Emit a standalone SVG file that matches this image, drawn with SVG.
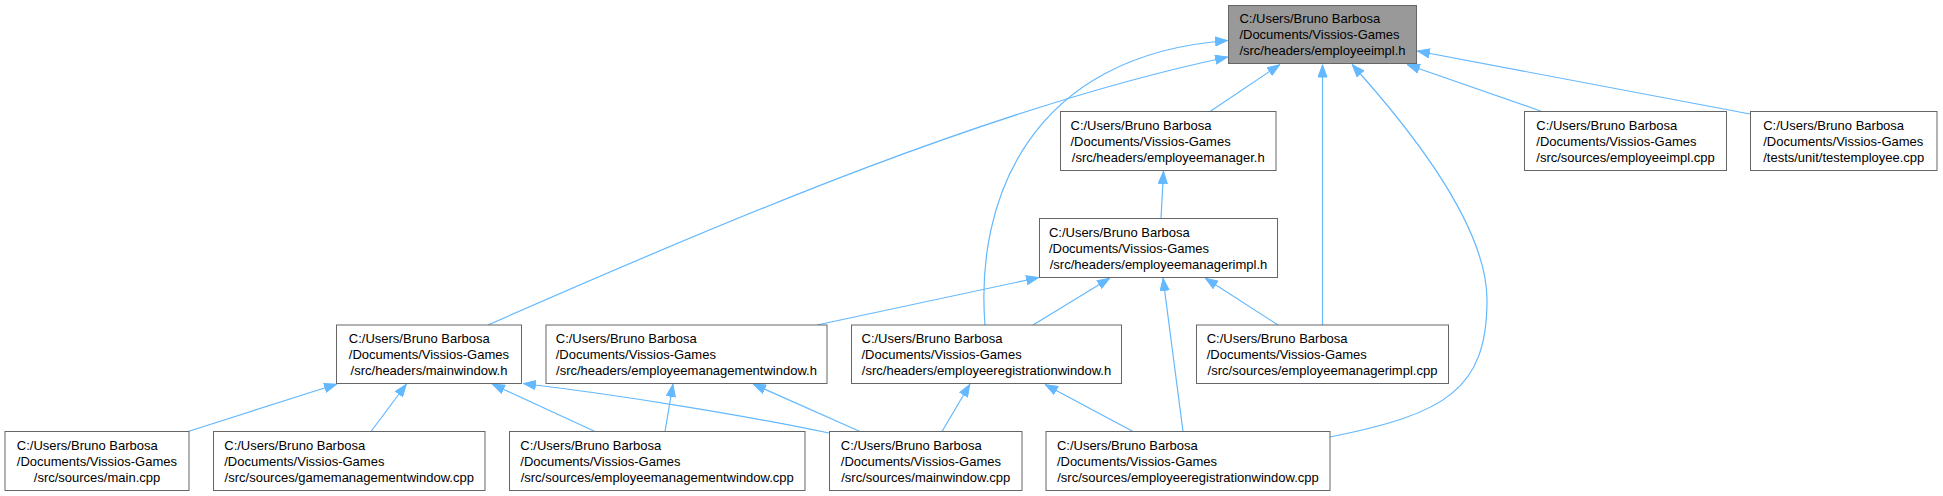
<svg xmlns="http://www.w3.org/2000/svg" width="1943" height="496" viewBox="0 0 1943 496">
<style>
.node rect{fill:#ffffff;stroke:#666666;stroke-width:1}
#n_root rect{fill:#999999}
text{font-family:"Liberation Sans",Arial,Helvetica,sans-serif;font-size:13px;fill:#000000}
.c{text-anchor:middle}
.edges path{fill:none;stroke:#63b8ff;stroke-width:1.2;marker-end:url(#ah)}
</style>
<defs>
<marker id="ah" viewBox="0 0 13 10" refX="13" refY="5" markerWidth="13" markerHeight="10" orient="auto" markerUnits="userSpaceOnUse">
<path d="M0.5,0.5 L12.5,5 L0.5,9.5 z" fill="#63b8ff" stroke="#63b8ff" stroke-width="1"/>
</marker>
</defs>
<rect width="1943" height="496" fill="#ffffff"/>
<g class="edges" id="connectors">
<path d="M488,325 C740,214 1000,105 1228,57"/>
<path d="M985,325 C975,200 1030,55 1228,40.5"/>
<path d="M1210,111.5 L1280,64.5"/>
<path d="M1322.5,325 L1322.5,64.5"/>
<path d="M1330,437 C1445,414 1487,390 1487,300 C1487,230 1420,140 1352,64.5"/>
<path d="M1542,111.5 L1407,64.5"/>
<path d="M1750,114 L1417,51"/>
<path d="M1161,218.5 L1163.5,171"/>
<path d="M817,325 L1039,277.5"/>
<path d="M1033,325 L1110,278"/>
<path d="M1278,325 L1205,278"/>
<path d="M1183,431.5 L1163,278"/>
<path d="M188,431.5 L337,384"/>
<path d="M371,431.5 L406.5,384"/>
<path d="M595,431.5 L492,384"/>
<path d="M829,433 C743,415 620,395 523,383.5"/>
<path d="M665,431.5 L673,384"/>
<path d="M860,431.5 L753,384"/>
<path d="M942,431.5 L970,384"/>
<path d="M1133,431.5 L1045,384.5"/>
</g>
<g class="node" id="n_root">
<rect x="1228.5" y="5.5" width="188" height="58"/>
<text x="1239.4" y="23">C:/Users/Bruno Barbosa</text>
<text x="1239.4" y="39">/Documents/Vissios-Games</text>
<text class="c" x="1322.5" y="55">/src/headers/employeeimpl.h</text>
</g>
<g class="node" id="n_employeemanager_h">
<rect x="1060.5" y="111.5" width="215.5" height="59"/>
<text x="1070.5" y="129.5">C:/Users/Bruno Barbosa</text>
<text x="1070.5" y="145.5">/Documents/Vissios-Games</text>
<text class="c" x="1168.25" y="161.5">/src/headers/employeemanager.h</text>
</g>
<g class="node" id="n_employeeimpl_cpp">
<rect x="1524.5" y="111.5" width="202" height="59"/>
<text x="1536.3" y="129.5">C:/Users/Bruno Barbosa</text>
<text x="1536.3" y="145.5">/Documents/Vissios-Games</text>
<text class="c" x="1625.5" y="161.5">/src/sources/employeeimpl.cpp</text>
</g>
<g class="node" id="n_testemployee_cpp">
<rect x="1750.5" y="111.5" width="186.5" height="59"/>
<text x="1763.2" y="129.5">C:/Users/Bruno Barbosa</text>
<text x="1763.2" y="145.5">/Documents/Vissios-Games</text>
<text class="c" x="1843.75" y="161.5">/tests/unit/testemployee.cpp</text>
</g>
<g class="node" id="n_employeemanagerimpl_h">
<rect x="1039.5" y="218.5" width="238" height="59"/>
<text x="1048.9" y="236.5">C:/Users/Bruno Barbosa</text>
<text x="1048.9" y="252.5">/Documents/Vissios-Games</text>
<text class="c" x="1158.5" y="268.5">/src/headers/employeemanagerimpl.h</text>
</g>
<g class="node" id="n_mainwindow_h">
<rect x="336.5" y="325" width="185" height="58.5"/>
<text x="348.8" y="343">C:/Users/Bruno Barbosa</text>
<text x="348.8" y="359">/Documents/Vissios-Games</text>
<text class="c" x="429" y="375">/src/headers/mainwindow.h</text>
</g>
<g class="node" id="n_employeemanagementwindow_h">
<rect x="546" y="325" width="281" height="58.5"/>
<text x="555.75" y="343">C:/Users/Bruno Barbosa</text>
<text x="555.75" y="359">/Documents/Vissios-Games</text>
<text class="c" x="686.5" y="375">/src/headers/employeemanagementwindow.h</text>
</g>
<g class="node" id="n_employeeregistrationwindow_h">
<rect x="851.5" y="325" width="270" height="58.5"/>
<text x="861.5" y="343">C:/Users/Bruno Barbosa</text>
<text x="861.5" y="359">/Documents/Vissios-Games</text>
<text class="c" x="986.5" y="375">/src/headers/employeeregistrationwindow.h</text>
</g>
<g class="node" id="n_employeemanagerimpl_cpp">
<rect x="1196.5" y="325" width="252" height="58.5"/>
<text x="1206.7" y="343">C:/Users/Bruno Barbosa</text>
<text x="1206.7" y="359">/Documents/Vissios-Games</text>
<text class="c" x="1322.5" y="375">/src/sources/employeemanagerimpl.cpp</text>
</g>
<g class="node" id="n_main_cpp">
<rect x="5" y="431.5" width="184" height="59"/>
<text x="16.8" y="449.5">C:/Users/Bruno Barbosa</text>
<text x="16.8" y="465.5">/Documents/Vissios-Games</text>
<text class="c" x="97" y="481.5">/src/sources/main.cpp</text>
</g>
<g class="node" id="n_gamemanagementwindow_cpp">
<rect x="213.5" y="431.5" width="271.5" height="59"/>
<text x="224.25" y="449.5">C:/Users/Bruno Barbosa</text>
<text x="224.25" y="465.5">/Documents/Vissios-Games</text>
<text class="c" x="349.25" y="481.5">/src/sources/gamemanagementwindow.cpp</text>
</g>
<g class="node" id="n_employeemanagementwindow_cpp">
<rect x="509.5" y="431.5" width="295.5" height="59"/>
<text x="520.35" y="449.5">C:/Users/Bruno Barbosa</text>
<text x="520.35" y="465.5">/Documents/Vissios-Games</text>
<text class="c" x="657.25" y="481.5">/src/sources/employeemanagementwindow.cpp</text>
</g>
<g class="node" id="n_mainwindow_cpp">
<rect x="829.5" y="431.5" width="192.5" height="59"/>
<text x="840.85" y="449.5">C:/Users/Bruno Barbosa</text>
<text x="840.85" y="465.5">/Documents/Vissios-Games</text>
<text class="c" x="925.75" y="481.5">/src/sources/mainwindow.cpp</text>
</g>
<g class="node" id="n_employeeregistrationwindow_cpp">
<rect x="1046" y="431.5" width="284" height="59"/>
<text x="1056.9" y="449.5">C:/Users/Bruno Barbosa</text>
<text x="1056.9" y="465.5">/Documents/Vissios-Games</text>
<text class="c" x="1188" y="481.5">/src/sources/employeeregistrationwindow.cpp</text>
</g>
</svg>
